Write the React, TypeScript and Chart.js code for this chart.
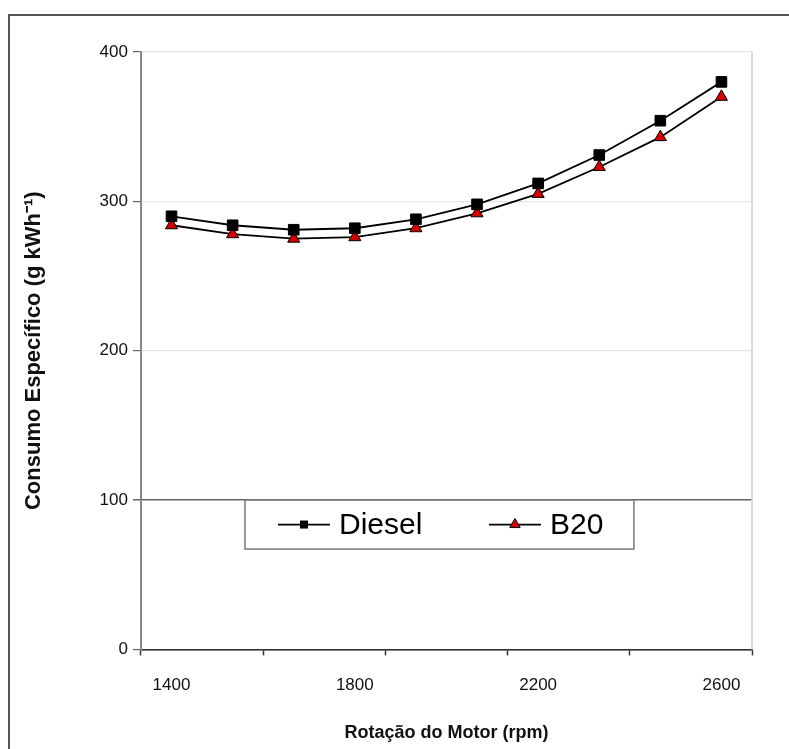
import React, { useEffect, useRef } from "react";
import { Chart, registerables } from "chart.js";

Chart.register(...registerables);

// Engine speed categories (rpm), equally spaced measurement points
const rpmCategories = [1400, 1533, 1667, 1800, 1933, 2067, 2200, 2333, 2467, 2600];
// Specific consumption (g kWh-1)
const dieselValues = [290, 284, 281, 282, 288, 298, 312, 331, 354, 380];
const b20Values = [284, 278, 275, 276, 282, 292, 305, 323, 343, 370];
// X tick labels and the category index each one sits at
const xTickLabels = ["1400", "1800", "2200", "2600"];
const xTickIndex = [0, 3, 6, 9];
// Y ticks
const yTicks = [0, 100, 200, 300, 400];

const FONT = "'Liberation Sans', Arial, sans-serif";

const legendPlugin = {
  id: "boxLegend",
  afterDraw(chart: any) {
    const { ctx, chartArea, scales } = chart;
    const left = chartArea.left + 104;
    const top = scales.y.getPixelForValue(100);
    const w = 389;
    const h = 49;
    ctx.save();
    ctx.fillStyle = "#ffffff";
    ctx.fillRect(left, top, w, h);
    ctx.strokeStyle = "#777";
    ctx.lineWidth = 1.5;
    ctx.strokeRect(left, top, w, h);
    const cy = top + h / 2;
    const items = [
      { ds: chart.data.datasets[0], x0: left + 33, text: "Diesel" },
      { ds: chart.data.datasets[1], x0: left + 244, text: "B20" },
    ];
    for (const it of items) {
      ctx.strokeStyle = "#000";
      ctx.lineWidth = 1.8;
      ctx.beginPath();
      ctx.moveTo(it.x0, cy);
      ctx.lineTo(it.x0 + 52, cy);
      ctx.stroke();
      ctx.fillStyle = it.ds.pointBackgroundColor;
      ctx.strokeStyle = "#000";
      ctx.lineWidth = 1;
      const cx = it.x0 + 26;
      if (it.ds.pointStyle === "rect") {
        ctx.fillRect(cx - 4, cy - 4, 8, 8);
      } else {
        const r = 6;
        ctx.beginPath();
        ctx.moveTo(cx, cy - r);
        ctx.lineTo(cx + r * 0.866, cy + r * 0.5);
        ctx.lineTo(cx - r * 0.866, cy + r * 0.5);
        ctx.closePath();
        ctx.fill();
        ctx.stroke();
      }
      ctx.fillStyle = "#000";
      ctx.font = `30px ${FONT}`;
      ctx.textBaseline = "middle";
      ctx.textAlign = "left";
      ctx.fillText(it.text, it.x0 + 61, cy + 1);
    }
    ctx.restore();
  },
};

const frameRightPlugin = {
  id: "frameRight",
  beforeDatasetsDraw(chart: any) {
    const { ctx, chartArea } = chart;
    ctx.save();
    ctx.strokeStyle = "#cfcfcf";
    ctx.lineWidth = 1.5;
    ctx.beginPath();
    ctx.moveTo(chartArea.right, chartArea.top);
    ctx.lineTo(chartArea.right, chartArea.bottom);
    ctx.stroke();
    ctx.restore();
  },
};

export default function App() {
  const ref = useRef<HTMLCanvasElement | null>(null);

  useEffect(() => {
    if (!ref.current) return;
    const xMarks = [-0.5, 1.5, 3.5, 5.5, 7.5, 9.5];
    const chart = new Chart(ref.current, {
      type: "line",
      data: {
        datasets: [
          {
            label: "Diesel",
            data: dieselValues.map((v, i) => ({ x: i, y: v })),
            borderColor: "#000",
            borderWidth: 1.8,
            pointStyle: "rect",
            pointRadius: 7.5,
            pointBackgroundColor: "#000",
            pointBorderColor: "#000",
            pointBorderWidth: 1,
            tension: 0,
          },
          {
            label: "B20",
            data: b20Values.map((v, i) => ({ x: i, y: v })),
            borderColor: "#000",
            borderWidth: 1.8,
            pointStyle: "triangle",
            pointRadius: 7,
            pointBackgroundColor: "#d40000",
            pointBorderColor: "#000",
            pointBorderWidth: 1,
            tension: 0,
          },
        ],
      },
      options: {
        animation: false,
        responsive: false,
        layout: { padding: { left: 3, right: 37, top: 36, bottom: 5 } },
        plugins: {
          legend: { display: false },
          tooltip: { enabled: false },
        },
        scales: {
          x: {
            type: "linear",
            min: -0.5,
            max: rpmCategories.length - 0.5,
            afterBuildTicks: (axis: any) => {
              const vals = [...xMarks, ...xTickIndex].sort((a, b) => a - b);
              axis.ticks = vals.map((v) => ({ value: v }));
            },
            ticks: {
              autoSkip: false,
              maxRotation: 0,
              padding: 20,
              color: "#111",
              font: { family: FONT, size: 17 },
              callback: (value: any) => {
                const k = xTickIndex.indexOf(Number(value));
                return k >= 0 ? xTickLabels[k] : "";
              },
            },
            grid: {
              drawOnChartArea: false,
              tickLength: 6,
              tickWidth: 1.5,
              tickColor: (ctx: any) =>
                ctx.tick && Number.isInteger(ctx.tick.value) ? "rgba(0,0,0,0)" : "#333",
            },
            border: { color: "#333", width: 1.5 },
            title: {
              display: true,
              text: "Rotação do Motor (rpm)",
              color: "#111",
              font: { family: FONT, size: 18, weight: "bold" },
              padding: { top: 6.6, bottom: 0 },
            },
          },
          y: {
            min: 0,
            max: 400,
            afterBuildTicks: (axis: any) => {
              axis.ticks = yTicks.map((v) => ({ value: v }));
            },
            ticks: {
              padding: 5,
              color: "#111",
              font: { family: FONT, size: 17 },
            },
            grid: {
              tickLength: 8,
              color: (ctx: any) => {
                const v = ctx.tick ? ctx.tick.value : null;
                if (v === 100) return "#666";
                if (v === 0) return "#333";
                return "#e4e4e4";
              },
              lineWidth: (ctx: any) => (ctx.tick && ctx.tick.value === 100 ? 1.5 : 1.2),
              tickColor: "#666",
            },
            border: { color: "#888", width: 2 },
            title: {
              display: true,
              text: "Consumo Específico (g kWh⁻¹)",
              color: "#111",
              font: { family: FONT, size: 22, weight: "bold" },
              padding: { top: 8, bottom: 47.2 },
            },
          },
        },
      },
      plugins: [frameRightPlugin, legendPlugin],
    } as any);
    return () => chart.destroy();
  }, []);

  return (
    <div
      style={{
        position: "fixed",
        left: 8,
        top: 14,
        width: 900,
        height: 900,
        borderLeft: "2px solid #555",
        borderTop: "2px solid #555",
        background: "#fff",
      }}
    >
      <canvas ref={ref} width={779} height={733} style={{ display: "block" }} />
    </div>
  );
}
